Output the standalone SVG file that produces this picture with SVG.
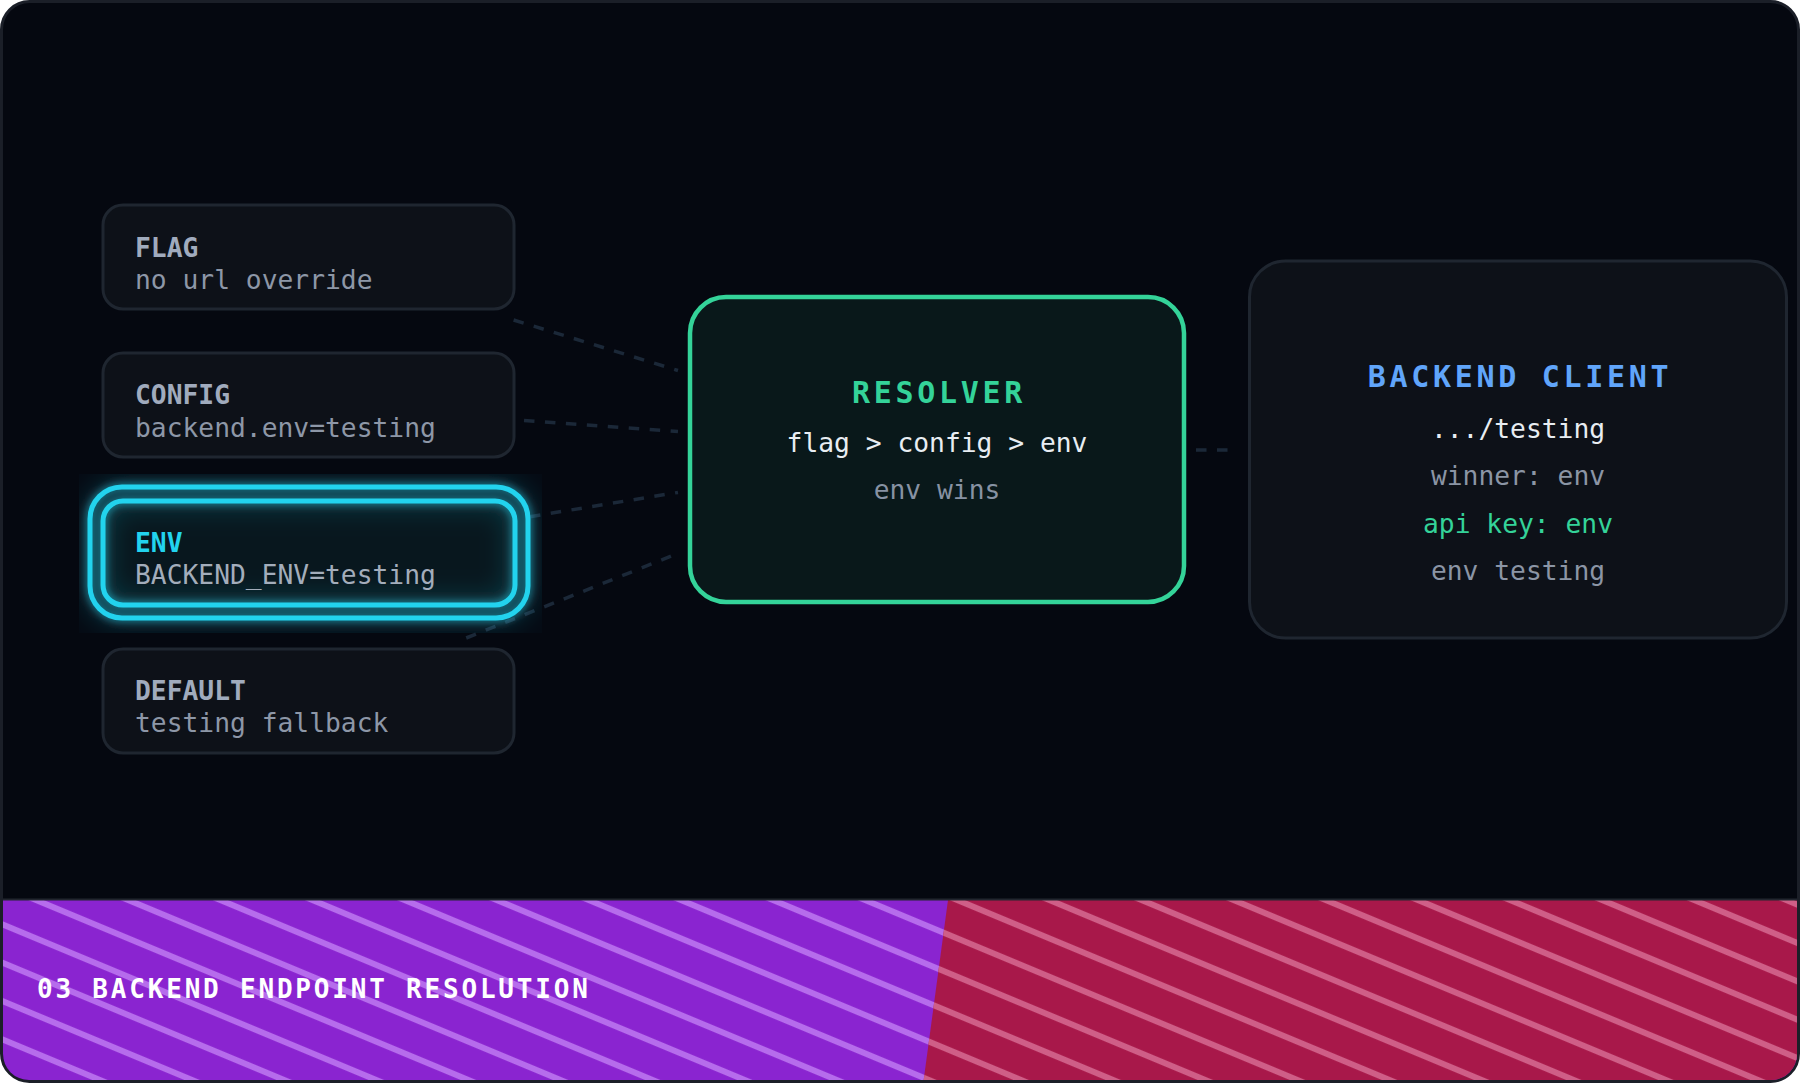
<svg xmlns="http://www.w3.org/2000/svg" width="1800" height="1085" viewBox="0 0 1800 1085">
  <style>
    .mono { font-family: "DejaVu Sans Mono", "Liberation Mono", monospace; }
    .box { fill: #0d1118; stroke: #1f2630; stroke-width: 3; }
    .ntitle { font-size: 26.3px; font-weight: bold; fill: #a0abbd; }
    .nsub { font-size: 26.3px; fill: #8d97a7; }
    .ctr { font-size: 26.3px; text-anchor: middle; }
    .big { font-size: 30px; font-weight: bold; letter-spacing: 3.7px; text-anchor: middle; }
    .conn { stroke: #1b2838; stroke-width: 3.5; stroke-dasharray: 10.5 10.5; fill: none; }
  </style>
  <defs>
    <clipPath id="frameClip">
      <rect x="3" y="3" width="1794" height="1077" rx="26"/>
    </clipPath>
    <pattern id="stripeP" patternUnits="userSpaceOnUse" width="40" height="35.4" patternTransform="translate(36 900) rotate(22.6)">
      <rect x="0" y="0" width="40" height="3" fill="#b66cec"/>
      <rect x="0" y="32.4" width="40" height="3" fill="#b66cec"/>
    </pattern>
    <pattern id="stripeR" patternUnits="userSpaceOnUse" width="40" height="35.4" patternTransform="translate(36 900) rotate(22.6)">
      <rect x="0" y="0" width="40" height="3" fill="#cf5e87"/>
      <rect x="0" y="32.4" width="40" height="3" fill="#cf5e87"/>
    </pattern>
    <filter id="glow" filterUnits="userSpaceOnUse" x="79" y="474" width="463" height="159">
      <feGaussianBlur in="SourceGraphic" stdDeviation="14" result="b1"/>
      <feColorMatrix in="b1" type="matrix" values="1 0 0 0 0  0 1 0 0 0  0 0 1 0 0  0 0 0 0.55 0" result="b1a"/>
      <feGaussianBlur in="SourceGraphic" stdDeviation="4" result="b2"/>
      <feColorMatrix in="b2" type="matrix" values="1 0 0 0 0  0 1 0 0 0  0 0 1 0 0  0 0 0 0.8 0" result="b2a"/>
      <feMerge>
        <feMergeNode in="b1a"/>
        <feMergeNode in="b2a"/>
        <feMergeNode in="SourceGraphic"/>
      </feMerge>
    </filter>
  </defs>

  <!-- frame -->
  <rect x="1.5" y="1.5" width="1797" height="1080" rx="28" fill="#050810" stroke="#1b1f28" stroke-width="3"/>

  <!-- bottom band -->
  <g id="band" clip-path="url(#frameClip)">
    <rect x="0" y="900" width="1800" height="185" fill="#8a24d0"/>
    <rect x="0" y="900" width="1800" height="185" fill="url(#stripeP)"/>
    <polygon points="948,900 1800,900 1800,1085 923,1085" fill="#a8184a"/>
    <polygon points="948,900 1800,900 1800,1085 923,1085" fill="url(#stripeR)"/>
    <line x1="0" y1="899.5" x2="1800" y2="899.5" stroke="#22262f" stroke-width="2"/>
    <text class="mono" x="37" y="998" font-size="26" font-weight="bold" letter-spacing="2.8" fill="#ffffff">03 BACKEND ENDPOINT RESOLUTION</text>
  </g>

  <!-- connectors -->
  <g id="connectors">
    <line class="conn" x1="513.6" y1="320" x2="678" y2="370.5"/>
    <line class="conn" x1="524" y1="420.4" x2="678" y2="431.5"/>
    <line class="conn" x1="530" y1="516.7" x2="678" y2="492.4"/>
    <line class="conn" x1="466.2" y1="638" x2="678" y2="553.4"/>
    <line class="conn" x1="1196" y1="450" x2="1238" y2="450"/>
  </g>

  <!-- FLAG -->
  <g id="node-flag">
    <rect class="box" x="103" y="205" width="411" height="104" rx="20"/>
    <text class="mono ntitle" x="135" y="257">FLAG</text>
    <text class="mono nsub" x="135" y="289">no url override</text>
  </g>

  <!-- CONFIG -->
  <g id="node-config">
    <rect class="box" x="103" y="353" width="411" height="104" rx="20"/>
    <text class="mono ntitle" x="135" y="404">CONFIG</text>
    <text class="mono nsub" x="135" y="437">backend.env=testing</text>
  </g>

  <!-- ENV (selected) -->
  <g id="node-env">
    <rect x="79" y="474" width="463" height="159" fill="#22d3ee" fill-opacity="0.015"/>
    <rect x="103" y="501" width="412" height="104" rx="20" fill="#08171e"/>
    <g filter="url(#glow)">
      <rect x="90" y="487" width="438" height="131" rx="32" fill="none" stroke="#22d3ee" stroke-width="5"/>
      <rect x="103" y="501" width="412" height="104" rx="20" fill="none" stroke="#22d3ee" stroke-width="5"/>
    </g>
    <text class="mono ntitle" x="135" y="552" style="fill:#22d3ee">ENV</text>
    <text class="mono nsub" x="135" y="584" style="fill:#a3adbb">BACKEND_ENV=testing</text>
  </g>

  <!-- DEFAULT -->
  <g id="node-default">
    <rect class="box" x="103" y="649" width="411" height="104" rx="20"/>
    <text class="mono ntitle" x="135" y="700">DEFAULT</text>
    <text class="mono nsub" x="135" y="732">testing fallback</text>
  </g>

  <!-- RESOLVER -->
  <g id="node-resolver">
    <rect x="690" y="297" width="494" height="305" rx="36" fill="#09181a" stroke="#34d399" stroke-width="4.5"/>
    <text class="mono big" x="939" y="403" fill="#34d399">RESOLVER</text>
    <text class="mono ctr" x="937" y="452" fill="#e8edf2">flag &gt; config &gt; env</text>
    <text class="mono ctr" x="937" y="499" fill="#8792a3">env wins</text>
  </g>

  <!-- BACKEND CLIENT -->
  <g id="node-client">
    <rect x="1249.5" y="261" width="537" height="377" rx="36" fill="#0d1118" stroke="#1f2630" stroke-width="3"/>
    <text class="mono big" x="1520" y="387" fill="#60a5fa">BACKEND CLIENT</text>
    <text class="mono ctr" x="1518" y="438" fill="#e8edf2">.../testing</text>
    <text class="mono ctr" x="1518" y="485" fill="#8b95a5">winner: env</text>
    <text class="mono ctr" x="1518" y="533" fill="#34d399">api key: env</text>
    <text class="mono ctr" x="1518" y="580" fill="#8b95a5">env testing</text>
  </g>
</svg>
